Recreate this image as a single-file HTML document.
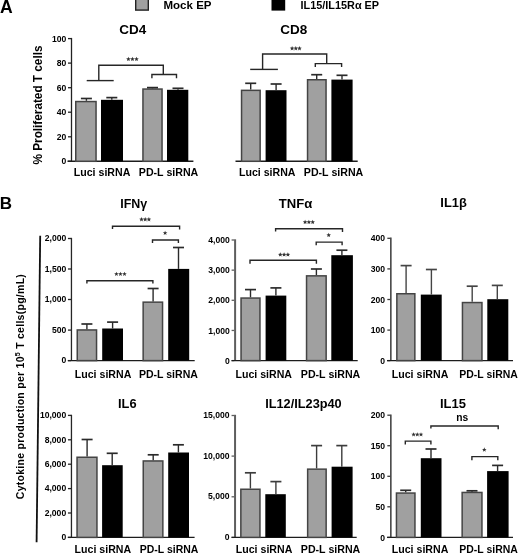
<!DOCTYPE html>
<html><head><meta charset="utf-8"><style>
html,body{margin:0;padding:0;background:#fff;}
body{width:520px;height:554px;overflow:hidden;}
svg{display:block;font-family:"Liberation Sans", sans-serif;filter:blur(0.3px);}
</style></head><body>
<svg width="520" height="554" viewBox="0 0 520 554">
<rect width="520" height="554" fill="#fff"/>
<text x="0.0" y="12.7" font-size="17.6" font-weight="bold" text-anchor="start" fill="#000">A</text>
<rect x="135.7" y="-2" width="12.6" height="12.1" fill="#a0a0a0" stroke="#222" stroke-width="1.4"/>
<text x="163.5" y="9.3" font-size="11" font-weight="bold" text-anchor="start" fill="#000" textLength="48" lengthAdjust="spacingAndGlyphs">Mock EP</text>
<rect x="271.5" y="-2" width="13.7" height="12.6" fill="#000"/>
<text x="300.6" y="9.3" font-size="11" font-weight="bold" text-anchor="start" fill="#000" textLength="78.5" lengthAdjust="spacingAndGlyphs">IL15/IL15Rα EP</text>
<text x="119.3" y="34.4" font-size="13" font-weight="bold" text-anchor="start" fill="#000" textLength="27" lengthAdjust="spacingAndGlyphs">CD4</text>
<line x1="71.5" y1="37.9" x2="71.5" y2="161.3" stroke="#222" stroke-width="1.3"/>
<line x1="68.0" y1="38.6" x2="71.05" y2="38.6" stroke="#222" stroke-width="1.3"/>
<text x="66.3" y="41.7" font-size="9" font-weight="bold" text-anchor="end" fill="#000" textLength="14.34" lengthAdjust="spacingAndGlyphs">100</text>
<line x1="68.0" y1="63.1" x2="71.05" y2="63.1" stroke="#222" stroke-width="1.3"/>
<text x="66.3" y="66.2" font-size="9" font-weight="bold" text-anchor="end" fill="#000" textLength="9.56" lengthAdjust="spacingAndGlyphs">80</text>
<line x1="68.0" y1="87.7" x2="71.05" y2="87.7" stroke="#222" stroke-width="1.3"/>
<text x="66.3" y="90.8" font-size="9" font-weight="bold" text-anchor="end" fill="#000" textLength="9.56" lengthAdjust="spacingAndGlyphs">60</text>
<line x1="68.0" y1="112.2" x2="71.05" y2="112.2" stroke="#222" stroke-width="1.3"/>
<text x="66.3" y="115.3" font-size="9" font-weight="bold" text-anchor="end" fill="#000" textLength="9.56" lengthAdjust="spacingAndGlyphs">40</text>
<line x1="68.0" y1="136.8" x2="71.05" y2="136.8" stroke="#222" stroke-width="1.3"/>
<text x="66.3" y="139.9" font-size="9" font-weight="bold" text-anchor="end" fill="#000" textLength="9.56" lengthAdjust="spacingAndGlyphs">20</text>
<line x1="68.0" y1="161.3" x2="71.05" y2="161.3" stroke="#222" stroke-width="1.3"/>
<text x="66.3" y="164.4" font-size="9" font-weight="bold" text-anchor="end" fill="#000" textLength="4.78" lengthAdjust="spacingAndGlyphs">0</text>
<line x1="67.5" y1="161.3" x2="193.4" y2="161.3" stroke="#1c1c1c" stroke-width="1.4"/>
<rect x="75.75" y="101.55" width="20.299999999999997" height="59.750000000000014" fill="#a0a0a0" stroke="#444" stroke-width="1.5"/>
<line x1="86.4" y1="100.8" x2="86.4" y2="98.5" stroke="#2a2a2a" stroke-width="1.4"/>
<line x1="80.9" y1="98.5" x2="91.9" y2="98.5" stroke="#2a2a2a" stroke-width="1.68"/>
<rect x="101" y="99.8" width="22" height="61.500000000000014" fill="#000"/>
<line x1="111.8" y1="99.8" x2="111.8" y2="97.6" stroke="#2a2a2a" stroke-width="1.4"/>
<line x1="106.3" y1="97.6" x2="117.3" y2="97.6" stroke="#2a2a2a" stroke-width="1.68"/>
<rect x="142.95" y="89.05" width="19.100000000000023" height="72.25000000000001" fill="#a0a0a0" stroke="#444" stroke-width="1.5"/>
<line x1="152.5" y1="88.3" x2="152.5" y2="87.6" stroke="#2a2a2a" stroke-width="1.4"/>
<line x1="147.0" y1="87.6" x2="158.0" y2="87.6" stroke="#2a2a2a" stroke-width="1.68"/>
<rect x="167" y="89.8" width="21.30000000000001" height="71.50000000000001" fill="#000"/>
<line x1="178" y1="89.8" x2="178" y2="88.3" stroke="#2a2a2a" stroke-width="1.4"/>
<line x1="172.5" y1="88.3" x2="183.5" y2="88.3" stroke="#2a2a2a" stroke-width="1.68"/>
<polyline points="86.7,80.6 113.7,80.6" fill="none" stroke="#262626" stroke-width="1.4" stroke-linejoin="miter"/>
<polyline points="98.8,80.6 98.8,65.2 163.3,65.2 163.3,74.5" fill="none" stroke="#262626" stroke-width="1.4" stroke-linejoin="miter"/>
<polyline points="151.9,78.3 151.9,74.5 176.5,74.5 176.5,78.3" fill="none" stroke="#262626" stroke-width="1.4" stroke-linejoin="miter"/>
<polygon points="128.40,56.75 129.02,58.30 130.68,58.41 129.40,59.47 129.81,61.09 128.40,60.20 126.99,61.09 127.40,59.47 126.12,58.41 127.78,58.30" fill="#333"/>
<polygon points="132.45,56.75 133.07,58.30 134.73,58.41 133.45,59.47 133.86,61.09 132.45,60.20 131.04,61.09 131.45,59.47 130.17,58.41 131.83,58.30" fill="#333"/>
<polygon points="136.50,56.75 137.12,58.30 138.78,58.41 137.50,59.47 137.91,61.09 136.50,60.20 135.09,61.09 135.50,59.47 134.22,58.41 135.88,58.30" fill="#333"/>
<text x="73.8" y="176" font-size="11" font-weight="bold" text-anchor="start" fill="#000" textLength="56.5" lengthAdjust="spacingAndGlyphs">Luci siRNA</text>
<text x="138.8" y="176" font-size="11" font-weight="bold" text-anchor="start" fill="#000" textLength="59.5" lengthAdjust="spacingAndGlyphs">PD-L siRNA</text>
<text x="33" y="105" font-size="12" font-weight="bold" text-anchor="middle" fill="#000" textLength="119" lengthAdjust="spacingAndGlyphs" transform="rotate(-90 41.7 105) translate(8.7 0)">% Proliferated T cells</text>
<text x="280.3" y="34" font-size="13" font-weight="bold" text-anchor="start" fill="#000" textLength="27" lengthAdjust="spacingAndGlyphs">CD8</text>
<line x1="235.5" y1="161.3" x2="357.7" y2="161.3" stroke="#1c1c1c" stroke-width="1.4"/>
<rect x="241.55" y="90.35" width="18.599999999999966" height="70.95000000000002" fill="#a0a0a0" stroke="#444" stroke-width="1.5"/>
<line x1="250.7" y1="89.6" x2="250.7" y2="83.3" stroke="#2a2a2a" stroke-width="1.4"/>
<line x1="245.2" y1="83.3" x2="256.2" y2="83.3" stroke="#2a2a2a" stroke-width="1.68"/>
<rect x="265.6" y="90.2" width="20.899999999999977" height="71.10000000000001" fill="#000"/>
<line x1="276.1" y1="90.2" x2="276.1" y2="84" stroke="#2a2a2a" stroke-width="1.4"/>
<line x1="270.6" y1="84" x2="281.6" y2="84" stroke="#2a2a2a" stroke-width="1.68"/>
<rect x="307.55" y="79.75" width="18.5" height="81.55000000000001" fill="#a0a0a0" stroke="#444" stroke-width="1.5"/>
<line x1="316.7" y1="79" x2="316.7" y2="74.7" stroke="#2a2a2a" stroke-width="1.4"/>
<line x1="311.2" y1="74.7" x2="322.2" y2="74.7" stroke="#2a2a2a" stroke-width="1.68"/>
<rect x="331.4" y="79.6" width="21.200000000000045" height="81.70000000000002" fill="#000"/>
<line x1="342" y1="79.6" x2="342" y2="75.3" stroke="#2a2a2a" stroke-width="1.4"/>
<line x1="336.5" y1="75.3" x2="347.5" y2="75.3" stroke="#2a2a2a" stroke-width="1.68"/>
<polyline points="250.2,69.4 277.9,69.4" fill="none" stroke="#262626" stroke-width="1.4" stroke-linejoin="miter"/>
<polyline points="262.6,69.4 262.6,54 326.7,54 326.7,63.6" fill="none" stroke="#262626" stroke-width="1.4" stroke-linejoin="miter"/>
<polyline points="315.3,66.9 315.3,63.6 341.6,63.6 341.6,66.9" fill="none" stroke="#262626" stroke-width="1.4" stroke-linejoin="miter"/>
<polygon points="292.10,46.05 292.72,47.60 294.38,47.71 293.10,48.77 293.51,50.39 292.10,49.50 290.69,50.39 291.10,48.77 289.82,47.71 291.48,47.60" fill="#333"/>
<polygon points="295.80,46.05 296.42,47.60 298.08,47.71 296.80,48.77 297.21,50.39 295.80,49.50 294.39,50.39 294.80,48.77 293.52,47.71 295.18,47.60" fill="#333"/>
<polygon points="299.50,46.05 300.12,47.60 301.78,47.71 300.50,48.77 300.91,50.39 299.50,49.50 298.09,50.39 298.50,48.77 297.22,47.71 298.88,47.60" fill="#333"/>
<text x="239" y="176" font-size="11" font-weight="bold" text-anchor="start" fill="#000" textLength="56.5" lengthAdjust="spacingAndGlyphs">Luci siRNA</text>
<text x="303.8" y="176" font-size="11" font-weight="bold" text-anchor="start" fill="#000" textLength="59.5" lengthAdjust="spacingAndGlyphs">PD-L siRNA</text>
<text x="-0.3" y="209" font-size="17" font-weight="bold" text-anchor="start" fill="#000">B</text>
<line x1="40.2" y1="235.8" x2="36.6" y2="542.3" stroke="#111" stroke-width="1.8"/>
<text x="0" y="0" font-size="10.5" font-weight="bold" text-anchor="start" fill="#000" letter-spacing="0.27" transform="translate(23.6 499.2) rotate(-90)">Cytokine production per 10<tspan font-size="7" dy="-3.5">5</tspan><tspan dy="3.5"> T cells(pg/mL)</tspan></text>
<text x="120.3" y="207.5" font-size="12.5" font-weight="bold" text-anchor="start" fill="#000" textLength="27" lengthAdjust="spacingAndGlyphs">IFNγ</text>
<line x1="71.45" y1="237.8" x2="71.45" y2="360.6" stroke="#262626" stroke-width="1.3"/>
<line x1="67.95" y1="238.5" x2="71.0" y2="238.5" stroke="#262626" stroke-width="1.3"/>
<text x="66.3" y="241.0" font-size="9" font-weight="bold" text-anchor="end" fill="#000" textLength="21.52" lengthAdjust="spacingAndGlyphs">2,000</text>
<line x1="67.95" y1="269" x2="71.0" y2="269" stroke="#262626" stroke-width="1.3"/>
<text x="66.3" y="271.5" font-size="9" font-weight="bold" text-anchor="end" fill="#000" textLength="21.52" lengthAdjust="spacingAndGlyphs">1,500</text>
<line x1="67.95" y1="299.5" x2="71.0" y2="299.5" stroke="#262626" stroke-width="1.3"/>
<text x="66.3" y="302.0" font-size="9" font-weight="bold" text-anchor="end" fill="#000" textLength="21.52" lengthAdjust="spacingAndGlyphs">1,000</text>
<line x1="67.95" y1="330.1" x2="71.0" y2="330.1" stroke="#262626" stroke-width="1.3"/>
<text x="66.3" y="332.6" font-size="9" font-weight="bold" text-anchor="end" fill="#000" textLength="14.34" lengthAdjust="spacingAndGlyphs">500</text>
<line x1="67.95" y1="360.6" x2="71.0" y2="360.6" stroke="#262626" stroke-width="1.3"/>
<text x="66.3" y="363.1" font-size="9" font-weight="bold" text-anchor="end" fill="#000" textLength="4.78" lengthAdjust="spacingAndGlyphs">0</text>
<line x1="67.8" y1="360.6" x2="194.7" y2="360.6" stroke="#1c1c1c" stroke-width="1.4"/>
<rect x="77.25" y="329.95" width="19.299999999999997" height="30.650000000000034" fill="#a0a0a0" stroke="#444" stroke-width="1.5"/>
<line x1="86.9" y1="329.2" x2="86.9" y2="324" stroke="#2a2a2a" stroke-width="1.4"/>
<line x1="81.4" y1="324" x2="92.4" y2="324" stroke="#2a2a2a" stroke-width="1.68"/>
<rect x="102.2" y="328.5" width="20.799999999999997" height="32.10000000000002" fill="#000"/>
<line x1="112.6" y1="328.5" x2="112.6" y2="322.1" stroke="#2a2a2a" stroke-width="1.4"/>
<line x1="107.1" y1="322.1" x2="118.1" y2="322.1" stroke="#2a2a2a" stroke-width="1.68"/>
<rect x="143.15" y="302.15" width="19.400000000000006" height="58.450000000000045" fill="#a0a0a0" stroke="#444" stroke-width="1.5"/>
<line x1="153.1" y1="301.4" x2="153.1" y2="288.5" stroke="#2a2a2a" stroke-width="1.4"/>
<line x1="147.6" y1="288.5" x2="158.6" y2="288.5" stroke="#2a2a2a" stroke-width="1.68"/>
<rect x="168.2" y="268.9" width="21.0" height="91.70000000000005" fill="#000"/>
<line x1="178.5" y1="268.9" x2="178.5" y2="247.5" stroke="#2a2a2a" stroke-width="1.4"/>
<line x1="173.0" y1="247.5" x2="184.0" y2="247.5" stroke="#2a2a2a" stroke-width="1.68"/>
<polyline points="86.9,283.6 86.9,280.8 152.9,280.8 152.9,283.6" fill="none" stroke="#262626" stroke-width="1.4" stroke-linejoin="miter"/>
<polygon points="116.40,271.65 117.02,273.20 118.68,273.31 117.40,274.37 117.81,275.99 116.40,275.10 114.99,275.99 115.40,274.37 114.12,273.31 115.78,273.20" fill="#333"/>
<polygon points="120.45,271.65 121.07,273.20 122.73,273.31 121.45,274.37 121.86,275.99 120.45,275.10 119.04,275.99 119.45,274.37 118.17,273.31 119.83,273.20" fill="#333"/>
<polygon points="124.50,271.65 125.12,273.20 126.78,273.31 125.50,274.37 125.91,275.99 124.50,275.10 123.09,275.99 123.50,274.37 122.22,273.31 123.88,273.20" fill="#333"/>
<polyline points="112.5,228.9 112.5,226.2 179.6,226.2 179.6,229.6" fill="none" stroke="#262626" stroke-width="1.4" stroke-linejoin="miter"/>
<polygon points="141.50,217.05 142.12,218.60 143.78,218.71 142.50,219.77 142.91,221.39 141.50,220.50 140.09,221.39 140.50,219.77 139.22,218.71 140.88,218.60" fill="#333"/>
<polygon points="145.20,217.05 145.82,218.60 147.48,218.71 146.20,219.77 146.61,221.39 145.20,220.50 143.79,221.39 144.20,219.77 142.92,218.71 144.58,218.60" fill="#333"/>
<polygon points="148.90,217.05 149.52,218.60 151.18,218.71 149.90,219.77 150.31,221.39 148.90,220.50 147.49,221.39 147.90,219.77 146.62,218.71 148.28,218.60" fill="#333"/>
<polyline points="152.5,242.9 152.5,240 178.4,240 178.4,242.9" fill="none" stroke="#262626" stroke-width="1.4" stroke-linejoin="miter"/>
<polygon points="165.10,230.65 165.72,232.20 167.38,232.31 166.10,233.37 166.51,234.99 165.10,234.10 163.69,234.99 164.10,233.37 162.82,232.31 164.48,232.20" fill="#333"/>
<text x="74.8" y="377.8" font-size="11" font-weight="bold" text-anchor="start" fill="#000" textLength="56.5" lengthAdjust="spacingAndGlyphs">Luci siRNA</text>
<text x="138.9" y="377.8" font-size="11" font-weight="bold" text-anchor="start" fill="#000" textLength="59" lengthAdjust="spacingAndGlyphs">PD-L siRNA</text>
<text x="278.8" y="207.6" font-size="12.5" font-weight="bold" text-anchor="start" fill="#000" textLength="33.5" lengthAdjust="spacingAndGlyphs">TNFα</text>
<line x1="235.1" y1="239.3" x2="235.1" y2="360.6" stroke="#5e5e5e" stroke-width="2"/>
<line x1="231.6" y1="240" x2="234.29999999999998" y2="240" stroke="#5e5e5e" stroke-width="1.3"/>
<text x="229.8" y="243.1" font-size="9" font-weight="bold" text-anchor="end" fill="#000" textLength="21.52" lengthAdjust="spacingAndGlyphs">4,000</text>
<line x1="231.6" y1="270.15" x2="234.29999999999998" y2="270.15" stroke="#5e5e5e" stroke-width="1.3"/>
<text x="229.8" y="273.25" font-size="9" font-weight="bold" text-anchor="end" fill="#000" textLength="21.52" lengthAdjust="spacingAndGlyphs">3,000</text>
<line x1="231.6" y1="300.3" x2="234.29999999999998" y2="300.3" stroke="#5e5e5e" stroke-width="1.3"/>
<text x="229.8" y="303.40000000000003" font-size="9" font-weight="bold" text-anchor="end" fill="#000" textLength="21.52" lengthAdjust="spacingAndGlyphs">2,000</text>
<line x1="231.6" y1="330.45" x2="234.29999999999998" y2="330.45" stroke="#5e5e5e" stroke-width="1.3"/>
<text x="229.8" y="333.55" font-size="9" font-weight="bold" text-anchor="end" fill="#000" textLength="21.52" lengthAdjust="spacingAndGlyphs">1,000</text>
<line x1="231.6" y1="360.6" x2="234.29999999999998" y2="360.6" stroke="#5e5e5e" stroke-width="1.3"/>
<text x="229.8" y="363.70000000000005" font-size="9" font-weight="bold" text-anchor="end" fill="#000" textLength="4.78" lengthAdjust="spacingAndGlyphs">0</text>
<line x1="231.5" y1="360.6" x2="357.7" y2="360.6" stroke="#1c1c1c" stroke-width="1.4"/>
<rect x="241.05" y="298.05" width="18.899999999999977" height="62.55000000000001" fill="#a0a0a0" stroke="#444" stroke-width="1.5"/>
<line x1="250.5" y1="297.3" x2="250.5" y2="289.6" stroke="#2a2a2a" stroke-width="1.4"/>
<line x1="245.0" y1="289.6" x2="256.0" y2="289.6" stroke="#2a2a2a" stroke-width="1.68"/>
<rect x="265.6" y="295.6" width="20.69999999999999" height="65.0" fill="#000"/>
<line x1="275.9" y1="295.6" x2="275.9" y2="287.9" stroke="#2a2a2a" stroke-width="1.4"/>
<line x1="270.4" y1="287.9" x2="281.4" y2="287.9" stroke="#2a2a2a" stroke-width="1.68"/>
<rect x="306.55" y="275.85" width="19.599999999999966" height="84.75" fill="#a0a0a0" stroke="#444" stroke-width="1.5"/>
<line x1="316.4" y1="275.1" x2="316.4" y2="269" stroke="#2a2a2a" stroke-width="1.4"/>
<line x1="310.9" y1="269" x2="321.9" y2="269" stroke="#2a2a2a" stroke-width="1.68"/>
<rect x="331.3" y="255.2" width="21.599999999999966" height="105.40000000000003" fill="#000"/>
<line x1="341.9" y1="255.2" x2="341.9" y2="250.2" stroke="#2a2a2a" stroke-width="1.4"/>
<line x1="336.4" y1="250.2" x2="347.4" y2="250.2" stroke="#2a2a2a" stroke-width="1.68"/>
<polyline points="250,263.8 250,260.3 316.4,260.3 316.4,263.8" fill="none" stroke="#262626" stroke-width="1.4" stroke-linejoin="miter"/>
<polygon points="280.30,252.25 280.92,253.80 282.58,253.91 281.30,254.97 281.71,256.59 280.30,255.70 278.89,256.59 279.30,254.97 278.02,253.91 279.68,253.80" fill="#333"/>
<polygon points="284.10,252.25 284.72,253.80 286.38,253.91 285.10,254.97 285.51,256.59 284.10,255.70 282.69,256.59 283.10,254.97 281.82,253.91 283.48,253.80" fill="#333"/>
<polygon points="287.90,252.25 288.52,253.80 290.18,253.91 288.90,254.97 289.31,256.59 287.90,255.70 286.49,256.59 286.90,254.97 285.62,253.91 287.28,253.80" fill="#333"/>
<polyline points="275.6,231.5 275.6,228.7 342.5,228.7 342.5,232" fill="none" stroke="#262626" stroke-width="1.4" stroke-linejoin="miter"/>
<polygon points="305.10,219.75 305.72,221.30 307.38,221.41 306.10,222.47 306.51,224.09 305.10,223.20 303.69,224.09 304.10,222.47 302.82,221.41 304.48,221.30" fill="#333"/>
<polygon points="308.90,219.75 309.52,221.30 311.18,221.41 309.90,222.47 310.31,224.09 308.90,223.20 307.49,224.09 307.90,222.47 306.62,221.41 308.28,221.30" fill="#333"/>
<polygon points="312.70,219.75 313.32,221.30 314.98,221.41 313.70,222.47 314.11,224.09 312.70,223.20 311.29,224.09 311.70,222.47 310.42,221.41 312.08,221.30" fill="#333"/>
<polyline points="316.2,245.2 316.2,242.1 342.1,242.1 342.1,245.2" fill="none" stroke="#262626" stroke-width="1.4" stroke-linejoin="miter"/>
<polygon points="328.70,232.75 329.32,234.30 330.98,234.41 329.70,235.47 330.11,237.09 328.70,236.20 327.29,237.09 327.70,235.47 326.42,234.41 328.08,234.30" fill="#333"/>
<text x="235.5" y="377.8" font-size="11" font-weight="bold" text-anchor="start" fill="#000" textLength="56.5" lengthAdjust="spacingAndGlyphs">Luci siRNA</text>
<text x="300.8" y="377.8" font-size="11" font-weight="bold" text-anchor="start" fill="#000" textLength="59.5" lengthAdjust="spacingAndGlyphs">PD-L siRNA</text>
<text x="440.3" y="207.4" font-size="12.5" font-weight="bold" text-anchor="start" fill="#000" textLength="26.5" lengthAdjust="spacingAndGlyphs">IL1β</text>
<line x1="390.85" y1="237.60000000000002" x2="390.85" y2="360.6" stroke="#3a3a3a" stroke-width="1.5"/>
<line x1="387.35" y1="238.3" x2="390.3" y2="238.3" stroke="#3a3a3a" stroke-width="1.3"/>
<text x="385" y="241.4" font-size="9" font-weight="bold" text-anchor="end" fill="#000" textLength="14.34" lengthAdjust="spacingAndGlyphs">400</text>
<line x1="387.35" y1="268.9" x2="390.3" y2="268.9" stroke="#3a3a3a" stroke-width="1.3"/>
<text x="385" y="272.0" font-size="9" font-weight="bold" text-anchor="end" fill="#000" textLength="14.34" lengthAdjust="spacingAndGlyphs">300</text>
<line x1="387.35" y1="299.5" x2="390.3" y2="299.5" stroke="#3a3a3a" stroke-width="1.3"/>
<text x="385" y="302.6" font-size="9" font-weight="bold" text-anchor="end" fill="#000" textLength="14.34" lengthAdjust="spacingAndGlyphs">200</text>
<line x1="387.35" y1="330.1" x2="390.3" y2="330.1" stroke="#3a3a3a" stroke-width="1.3"/>
<text x="385" y="333.20000000000005" font-size="9" font-weight="bold" text-anchor="end" fill="#000" textLength="14.34" lengthAdjust="spacingAndGlyphs">100</text>
<line x1="387.35" y1="360.6" x2="390.3" y2="360.6" stroke="#3a3a3a" stroke-width="1.3"/>
<text x="385" y="363.70000000000005" font-size="9" font-weight="bold" text-anchor="end" fill="#000" textLength="4.78" lengthAdjust="spacingAndGlyphs">0</text>
<line x1="387" y1="360.6" x2="513" y2="360.6" stroke="#1c1c1c" stroke-width="1.4"/>
<rect x="396.85" y="293.75" width="18.0" height="66.85000000000002" fill="#a0a0a0" stroke="#444" stroke-width="1.5"/>
<line x1="406.1" y1="293" x2="406.1" y2="265.6" stroke="#444" stroke-width="1.4"/>
<line x1="400.6" y1="265.6" x2="411.6" y2="265.6" stroke="#444" stroke-width="1.68"/>
<rect x="420.8" y="294.6" width="20.899999999999977" height="66.0" fill="#000"/>
<line x1="431.4" y1="294.6" x2="431.4" y2="269.5" stroke="#444" stroke-width="1.4"/>
<line x1="425.9" y1="269.5" x2="436.9" y2="269.5" stroke="#444" stroke-width="1.68"/>
<rect x="462.45" y="302.55" width="19.5" height="58.05000000000001" fill="#a0a0a0" stroke="#444" stroke-width="1.5"/>
<line x1="472.2" y1="301.8" x2="472.2" y2="286.2" stroke="#444" stroke-width="1.4"/>
<line x1="466.7" y1="286.2" x2="477.7" y2="286.2" stroke="#444" stroke-width="1.68"/>
<rect x="487.3" y="299.2" width="21.0" height="61.400000000000034" fill="#000"/>
<line x1="497.3" y1="299.2" x2="497.3" y2="285.4" stroke="#444" stroke-width="1.4"/>
<line x1="491.8" y1="285.4" x2="502.8" y2="285.4" stroke="#444" stroke-width="1.68"/>
<text x="391.8" y="377.8" font-size="11" font-weight="bold" text-anchor="start" fill="#000" textLength="56.5" lengthAdjust="spacingAndGlyphs">Luci siRNA</text>
<text x="459.3" y="377.8" font-size="11" font-weight="bold" text-anchor="start" fill="#000" textLength="58.5" lengthAdjust="spacingAndGlyphs">PD-L siRNA</text>
<text x="118" y="407.7" font-size="12.5" font-weight="bold" text-anchor="start" fill="#000" textLength="18.5" lengthAdjust="spacingAndGlyphs">IL6</text>
<line x1="71.45" y1="414.7" x2="71.45" y2="537.4" stroke="#262626" stroke-width="1.3"/>
<line x1="67.95" y1="415.4" x2="71.0" y2="415.4" stroke="#262626" stroke-width="1.3"/>
<text x="66.2" y="418.1" font-size="9" font-weight="bold" text-anchor="end" fill="#000" textLength="26.3" lengthAdjust="spacingAndGlyphs">10,000</text>
<line x1="67.95" y1="439.8" x2="71.0" y2="439.8" stroke="#262626" stroke-width="1.3"/>
<text x="66.2" y="442.50000000000006" font-size="9" font-weight="bold" text-anchor="end" fill="#000" textLength="21.52" lengthAdjust="spacingAndGlyphs">8,000</text>
<line x1="67.95" y1="464.2" x2="71.0" y2="464.2" stroke="#262626" stroke-width="1.3"/>
<text x="66.2" y="466.90000000000003" font-size="9" font-weight="bold" text-anchor="end" fill="#000" textLength="21.52" lengthAdjust="spacingAndGlyphs">6,000</text>
<line x1="67.95" y1="488.6" x2="71.0" y2="488.6" stroke="#262626" stroke-width="1.3"/>
<text x="66.2" y="491.30000000000007" font-size="9" font-weight="bold" text-anchor="end" fill="#000" textLength="21.52" lengthAdjust="spacingAndGlyphs">4,000</text>
<line x1="67.95" y1="513" x2="71.0" y2="513" stroke="#262626" stroke-width="1.3"/>
<text x="66.2" y="515.7" font-size="9" font-weight="bold" text-anchor="end" fill="#000" textLength="21.52" lengthAdjust="spacingAndGlyphs">2,000</text>
<line x1="67.95" y1="537.4" x2="71.0" y2="537.4" stroke="#262626" stroke-width="1.3"/>
<text x="66.2" y="540.1" font-size="9" font-weight="bold" text-anchor="end" fill="#000" textLength="4.78" lengthAdjust="spacingAndGlyphs">0</text>
<line x1="67.8" y1="537.4" x2="194.6" y2="537.4" stroke="#1c1c1c" stroke-width="1.4"/>
<rect x="77.05" y="457.25" width="19.900000000000006" height="80.14999999999998" fill="#a0a0a0" stroke="#444" stroke-width="1.5"/>
<line x1="87.1" y1="456.5" x2="87.1" y2="439.5" stroke="#2a2a2a" stroke-width="1.4"/>
<line x1="81.6" y1="439.5" x2="92.6" y2="439.5" stroke="#2a2a2a" stroke-width="1.68"/>
<rect x="102.1" y="465.2" width="20.60000000000001" height="72.19999999999999" fill="#000"/>
<line x1="112.2" y1="465.2" x2="112.2" y2="453.3" stroke="#2a2a2a" stroke-width="1.4"/>
<line x1="106.7" y1="453.3" x2="117.7" y2="453.3" stroke="#2a2a2a" stroke-width="1.68"/>
<rect x="143.25" y="460.95" width="19.599999999999994" height="76.44999999999999" fill="#a0a0a0" stroke="#444" stroke-width="1.5"/>
<line x1="153.2" y1="460.2" x2="153.2" y2="454.8" stroke="#2a2a2a" stroke-width="1.4"/>
<line x1="147.7" y1="454.8" x2="158.7" y2="454.8" stroke="#2a2a2a" stroke-width="1.68"/>
<rect x="168.2" y="452.5" width="20.80000000000001" height="84.89999999999998" fill="#000"/>
<line x1="178.4" y1="452.5" x2="178.4" y2="444.8" stroke="#2a2a2a" stroke-width="1.4"/>
<line x1="172.9" y1="444.8" x2="183.9" y2="444.8" stroke="#2a2a2a" stroke-width="1.68"/>
<text x="74.6" y="553" font-size="11" font-weight="bold" text-anchor="start" fill="#000" textLength="56.5" lengthAdjust="spacingAndGlyphs">Luci siRNA</text>
<text x="139.8" y="553" font-size="11" font-weight="bold" text-anchor="start" fill="#000" textLength="58.5" lengthAdjust="spacingAndGlyphs">PD-L siRNA</text>
<text x="265.2" y="408" font-size="12.5" font-weight="bold" text-anchor="start" fill="#000" textLength="76.5" lengthAdjust="spacingAndGlyphs">IL12/IL23p40</text>
<line x1="235.05" y1="414.8" x2="235.05" y2="537.4" stroke="#5e5e5e" stroke-width="2"/>
<line x1="231.55" y1="415.5" x2="234.25" y2="415.5" stroke="#5e5e5e" stroke-width="1.3"/>
<text x="229.5" y="418.0" font-size="9" font-weight="bold" text-anchor="end" fill="#000" textLength="26.3" lengthAdjust="spacingAndGlyphs">15,000</text>
<line x1="231.55" y1="456.1" x2="234.25" y2="456.1" stroke="#5e5e5e" stroke-width="1.3"/>
<text x="229.5" y="458.6" font-size="9" font-weight="bold" text-anchor="end" fill="#000" textLength="26.3" lengthAdjust="spacingAndGlyphs">10,000</text>
<line x1="231.55" y1="496.8" x2="234.25" y2="496.8" stroke="#5e5e5e" stroke-width="1.3"/>
<text x="229.5" y="499.3" font-size="9" font-weight="bold" text-anchor="end" fill="#000" textLength="21.52" lengthAdjust="spacingAndGlyphs">5,000</text>
<line x1="231.55" y1="537.4" x2="234.25" y2="537.4" stroke="#5e5e5e" stroke-width="1.3"/>
<text x="229.5" y="539.9" font-size="9" font-weight="bold" text-anchor="end" fill="#000" textLength="4.78" lengthAdjust="spacingAndGlyphs">0</text>
<line x1="231.5" y1="537.4" x2="356.7" y2="537.4" stroke="#1c1c1c" stroke-width="1.4"/>
<rect x="240.85" y="489.25" width="19.099999999999994" height="48.14999999999998" fill="#a0a0a0" stroke="#444" stroke-width="1.5"/>
<line x1="250.4" y1="488.5" x2="250.4" y2="472.8" stroke="#3c3c3c" stroke-width="1.4"/>
<line x1="244.9" y1="472.8" x2="255.9" y2="472.8" stroke="#3c3c3c" stroke-width="1.68"/>
<rect x="265.3" y="494.2" width="20.5" height="43.19999999999999" fill="#000"/>
<line x1="275.9" y1="494.2" x2="275.9" y2="481.6" stroke="#3c3c3c" stroke-width="1.4"/>
<line x1="270.4" y1="481.6" x2="281.4" y2="481.6" stroke="#3c3c3c" stroke-width="1.68"/>
<rect x="307.65" y="469.15" width="18.5" height="68.25" fill="#a0a0a0" stroke="#444" stroke-width="1.5"/>
<line x1="316.6" y1="468.4" x2="316.6" y2="445.6" stroke="#3c3c3c" stroke-width="1.4"/>
<line x1="311.1" y1="445.6" x2="322.1" y2="445.6" stroke="#3c3c3c" stroke-width="1.68"/>
<rect x="331.6" y="466.7" width="21.0" height="70.69999999999999" fill="#000"/>
<line x1="341.8" y1="466.7" x2="341.8" y2="445.6" stroke="#3c3c3c" stroke-width="1.4"/>
<line x1="336.3" y1="445.6" x2="347.3" y2="445.6" stroke="#3c3c3c" stroke-width="1.68"/>
<text x="235.8" y="553" font-size="11" font-weight="bold" text-anchor="start" fill="#000" textLength="56.5" lengthAdjust="spacingAndGlyphs">Luci siRNA</text>
<text x="300.8" y="553" font-size="11" font-weight="bold" text-anchor="start" fill="#000" textLength="59.5" lengthAdjust="spacingAndGlyphs">PD-L siRNA</text>
<text x="439.9" y="407.7" font-size="12.5" font-weight="bold" text-anchor="start" fill="#000" textLength="26" lengthAdjust="spacingAndGlyphs">IL15</text>
<line x1="390.85" y1="414.5" x2="390.85" y2="537.4" stroke="#3a3a3a" stroke-width="1.5"/>
<line x1="387.35" y1="415.2" x2="390.3" y2="415.2" stroke="#3a3a3a" stroke-width="1.3"/>
<text x="385" y="418.3" font-size="9" font-weight="bold" text-anchor="end" fill="#000" textLength="14.34" lengthAdjust="spacingAndGlyphs">200</text>
<line x1="387.35" y1="445.7" x2="390.3" y2="445.7" stroke="#3a3a3a" stroke-width="1.3"/>
<text x="385" y="448.8" font-size="9" font-weight="bold" text-anchor="end" fill="#000" textLength="14.34" lengthAdjust="spacingAndGlyphs">150</text>
<line x1="387.35" y1="476.3" x2="390.3" y2="476.3" stroke="#3a3a3a" stroke-width="1.3"/>
<text x="385" y="479.40000000000003" font-size="9" font-weight="bold" text-anchor="end" fill="#000" textLength="14.34" lengthAdjust="spacingAndGlyphs">100</text>
<line x1="387.35" y1="506.8" x2="390.3" y2="506.8" stroke="#3a3a3a" stroke-width="1.3"/>
<text x="385" y="509.90000000000003" font-size="9" font-weight="bold" text-anchor="end" fill="#000" textLength="9.56" lengthAdjust="spacingAndGlyphs">50</text>
<line x1="387.35" y1="537.4" x2="390.3" y2="537.4" stroke="#3a3a3a" stroke-width="1.3"/>
<text x="385" y="540.5" font-size="9" font-weight="bold" text-anchor="end" fill="#000" textLength="4.78" lengthAdjust="spacingAndGlyphs">0</text>
<line x1="387" y1="537.4" x2="513" y2="537.4" stroke="#1c1c1c" stroke-width="1.4"/>
<rect x="396.45" y="493.05" width="18.5" height="44.349999999999966" fill="#a0a0a0" stroke="#444" stroke-width="1.5"/>
<line x1="405.7" y1="492.3" x2="405.7" y2="490.3" stroke="#2a2a2a" stroke-width="1.4"/>
<line x1="400.2" y1="490.3" x2="411.2" y2="490.3" stroke="#2a2a2a" stroke-width="1.68"/>
<rect x="420.8" y="458.2" width="20.69999999999999" height="79.19999999999999" fill="#000"/>
<line x1="431" y1="458.2" x2="431" y2="449" stroke="#2a2a2a" stroke-width="1.4"/>
<line x1="425.5" y1="449" x2="436.5" y2="449" stroke="#2a2a2a" stroke-width="1.68"/>
<rect x="462.15" y="492.45" width="19.80000000000001" height="44.94999999999999" fill="#a0a0a0" stroke="#444" stroke-width="1.5"/>
<line x1="472" y1="491.7" x2="472" y2="490.8" stroke="#2a2a2a" stroke-width="1.4"/>
<line x1="466.5" y1="490.8" x2="477.5" y2="490.8" stroke="#2a2a2a" stroke-width="1.68"/>
<rect x="487.1" y="471.1" width="21.5" height="66.29999999999995" fill="#000"/>
<line x1="497.6" y1="471.1" x2="497.6" y2="465.4" stroke="#2a2a2a" stroke-width="1.4"/>
<line x1="492.1" y1="465.4" x2="503.1" y2="465.4" stroke="#2a2a2a" stroke-width="1.68"/>
<polyline points="405.3,444.6 405.3,441.1 430.9,441.1 430.9,444.6" fill="none" stroke="#262626" stroke-width="1.4" stroke-linejoin="miter"/>
<polygon points="413.60,432.15 414.22,433.70 415.88,433.81 414.60,434.87 415.01,436.49 413.60,435.60 412.19,436.49 412.60,434.87 411.32,433.81 412.98,433.70" fill="#333"/>
<polygon points="417.30,432.15 417.92,433.70 419.58,433.81 418.30,434.87 418.71,436.49 417.30,435.60 415.89,436.49 416.30,434.87 415.02,433.81 416.68,433.70" fill="#333"/>
<polygon points="421.00,432.15 421.62,433.70 423.28,433.81 422.00,434.87 422.41,436.49 421.00,435.60 419.59,436.49 420.00,434.87 418.72,433.81 420.38,433.70" fill="#333"/>
<polyline points="430.9,428.5 430.9,426 498.2,426 498.2,429.2" fill="none" stroke="#262626" stroke-width="1.4" stroke-linejoin="miter"/>
<text x="456.3" y="421.2" font-size="11" font-weight="bold" text-anchor="start" fill="#000" textLength="12" lengthAdjust="spacingAndGlyphs">ns</text>
<polyline points="471.9,460.2 471.9,456.6 497.8,456.6 497.8,460.2" fill="none" stroke="#262626" stroke-width="1.4" stroke-linejoin="miter"/>
<polygon points="484.30,447.35 484.92,448.90 486.58,449.01 485.30,450.07 485.71,451.69 484.30,450.80 482.89,451.69 483.30,450.07 482.02,449.01 483.68,448.90" fill="#333"/>
<text x="391.8" y="553" font-size="11" font-weight="bold" text-anchor="start" fill="#000" textLength="56.5" lengthAdjust="spacingAndGlyphs">Luci siRNA</text>
<text x="459.3" y="553" font-size="11" font-weight="bold" text-anchor="start" fill="#000" textLength="58.5" lengthAdjust="spacingAndGlyphs">PD-L siRNA</text>
</svg>
</body></html>
